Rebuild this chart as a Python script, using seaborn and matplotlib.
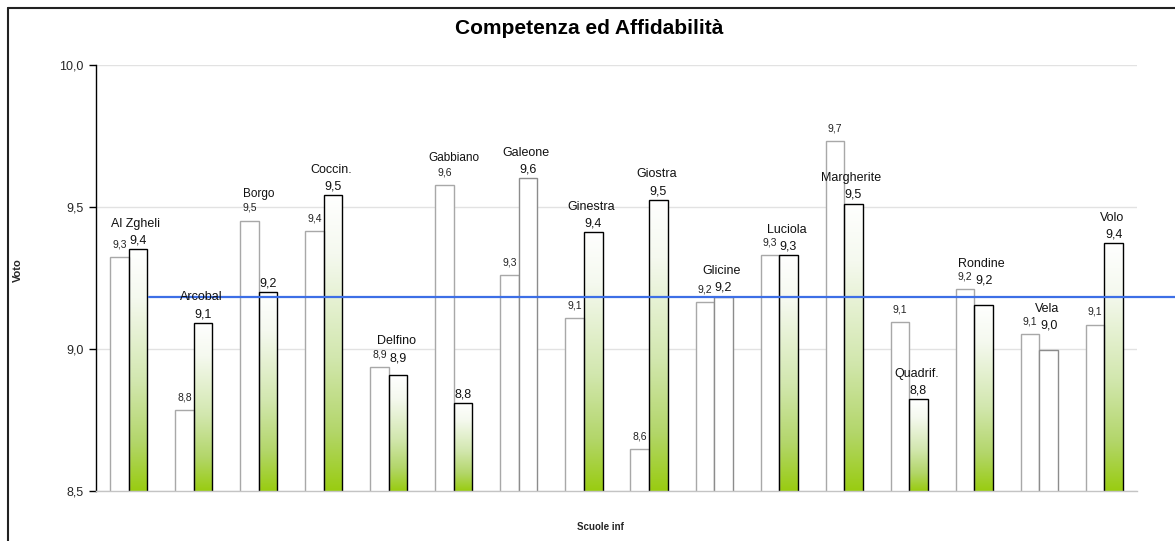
import numpy as np
import pandas as pd
import matplotlib
matplotlib.use("Agg")
import matplotlib.pyplot as plt
import seaborn as sns
from matplotlib.colors import LinearSegmentedColormap
from matplotlib.lines import Line2D

# --- data -------------------------------------------------------------
scuole = ["Al Zgheli", "Arcobal", "Borgo", "Coccin.", "Delfino", "Gabbiano",
          "Galeone", "Ginestra", "Giostra", "Glicine", "Luciola", "Margherite",
          "Quadrif.", "Rondine", "Vela", "Volo"]
voti_prec = [9.324, 8.785, 9.452, 9.415, 8.937, 9.577, 9.261, 9.109,
             8.648, 9.165, 9.331, 9.733, 9.094, 9.211, 9.052, 9.086]
voti_att = [9.352, 9.092, 9.201, 9.542, 8.908, 8.810, 9.602, 9.412,
            9.525, 9.184, 9.331, 9.512, 8.823, 9.156, 8.998, 9.372]
media = 9.183
y_ticks = [8.5, 9.0, 9.5, 10.0]

# --- styling choices --------------------------------------------------
senza_sfumatura = ["Galeone", "Glicine", "Vela"]   # plain white bars
nome_sopra_prima = ["Borgo", "Gabbiano"]            # name over the first bar

W, H = 1175, 541
sns.set_theme(style="white")
plt.rcParams["font.family"] = ["Liberation Sans", "DejaVu Sans"]

df = pd.DataFrame({
    "Scuola": scuole * 2,
    "Voto": voti_prec + voti_att,
    "Serie": ["prec"] * len(scuole) + ["att"] * len(scuole),
})

fig = plt.figure(figsize=(W / 100, H / 100), dpi=100)
ax = fig.add_axes([96 / W, 1 - 491 / H, (1137 - 96) / W, (491 - 65) / H])

sns.barplot(data=df, x="Scuola", y="Voto", hue="Serie",
            palette=["white", "white"], saturation=1, width=0.57,
            dodge=True, errorbar=None, legend=False, ax=ax)

verde = LinearSegmentedColormap.from_list(
    "verde", [(0.0, "#ffffff"), (0.2, "#f5f9ef"), (0.55, "#d2e7ae"),
              (0.8, "#b3d66a"), (1.0, "#99cc11")])
grad = np.linspace(0, 1, 256).reshape(-1, 1)

bars_prec = ax.containers[0]
bars_att = ax.containers[1]

for p in bars_prec:
    p.set_facecolor("white")
    p.set_edgecolor("#a8a8a8")
    p.set_linewidth(1.0)
    p.set_zorder(2)

for name, p in zip(scuole, bars_att):
    p.set_zorder(2)
    p.set_linewidth(1.0)
    if name in senza_sfumatura:
        p.set_facecolor("white")
        p.set_edgecolor("#8c8c8c")
    else:
        p.set_facecolor("none")
        p.set_edgecolor("black")
        x0, w, h = p.get_x(), p.get_width(), p.get_height()
        ax.imshow(grad, extent=[x0, x0 + w, 8.5, h], cmap=verde,
                  aspect="auto", origin="upper", zorder=1.9,
                  interpolation="bicubic")

ax.set_ylim(8.5, 10.0)
ax.set_xlim(-0.5, len(scuole) - 0.5)


def fmt(v):
    return f"{v:.1f}".replace(".", ",")


# value labels and school names
for name, v1, v2, p1, p2 in zip(scuole, voti_prec, voti_att, bars_prec, bars_att):
    c1 = p1.get_x() + p1.get_width() / 2
    c2 = p2.get_x() + p2.get_width() / 2
    ax.annotate(fmt(v1), (c1, v1), xytext=(0, 5.5), textcoords="offset points",
                ha="center", va="bottom", fontsize=7.5, color="#222222",
                zorder=5)
    # lift the second label when the first bar is only slightly taller
    y2 = v1 if 0 < v1 - v2 < 0.1 else v2
    ax.annotate(fmt(v2), (c2, y2), xytext=(0, 2), textcoords="offset points",
                ha="center", va="bottom", fontsize=9, color="#111111",
                zorder=5)
    if name in nome_sopra_prima:
        xc = (c1 + c2) / 2
        ax.annotate(name, (xc, v1), xytext=(0, 15),
                    textcoords="offset points", ha="center", va="bottom",
                    fontsize=8.5, color="#111111", zorder=5)
    else:
        ax.annotate(name, (c2 - 0.03, y2), xytext=(0, 14),
                    textcoords="offset points", ha="center", va="bottom",
                    fontsize=9, color="#111111", zorder=5)

# average line
ax.axhline(media, xmin=0.051, xmax=1.04, clip_on=False, color="#3d6fe6",
           lw=1.6, zorder=4)

# axes cosmetics
ax.yaxis.grid(True, color="#e2e2e2", lw=1)
ax.set_axisbelow(True)
ax.set_yticks(y_ticks)
ax.set_yticklabels([fmt(t) for t in y_ticks])
ax.tick_params(axis="y", left=True, length=5, width=1, color="black",
               direction="out", labelsize=9, pad=4)
ax.tick_params(axis="x", bottom=False, labelbottom=False)
ax.set_xlabel("")
ax.set_ylabel("")
for s in ["top", "right"]:
    ax.spines[s].set_visible(False)
ax.spines["left"].set_color("black")
ax.spines["left"].set_linewidth(1)
ax.spines["bottom"].set_color("#c4c4c4")
ax.spines["bottom"].set_linewidth(1)

# titles
fig.text(589 / W, 1 - 29 / H, "Competenza ed Affidabilità", ha="center",
         va="center", fontsize=15, fontweight="bold", color="black")
fig.text(18 / W, 1 - 270 / H, "Voto", ha="center", va="center",
         rotation=90, fontsize=8, fontweight="bold")
fig.text(600 / W, 1 - 527 / H, "Scuole inf", ha="center", va="center",
         fontsize=7, fontweight="bold")

# chart frame (top and left edges)
fig.add_artist(Line2D([8 / W, 1.0], [1 - 8 / H, 1 - 8 / H], color="#222222",
                      lw=1.5))
fig.add_artist(Line2D([8 / W, 8 / W], [0, 1 - 8 / H], color="#222222", lw=1.5))

fig.savefig("out.png", dpi=100)
